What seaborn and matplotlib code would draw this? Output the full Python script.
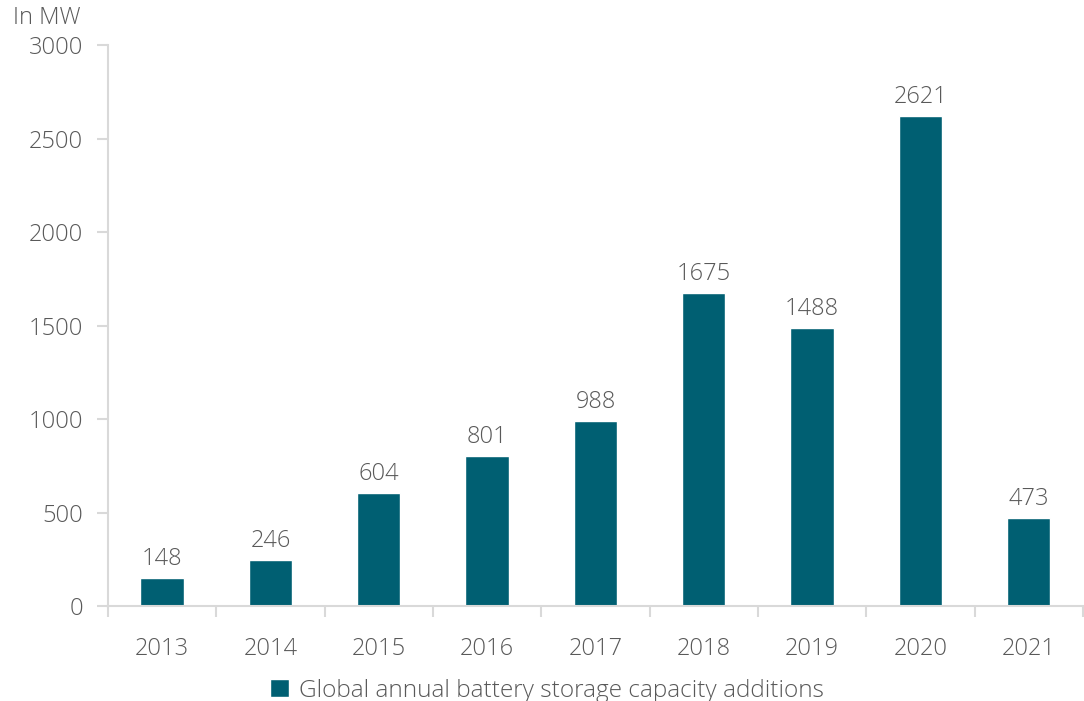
import matplotlib
matplotlib.use("Agg")
import matplotlib.pyplot as plt
import seaborn as sns
import pandas as pd
import numpy as np

years = ["2013", "2014", "2015", "2016", "2017", "2018", "2019", "2020", "2021"]
additions_mw = [148, 246, 604, 801, 988, 1675, 1488, 2621, 473]
series_name = "Global annual battery storage capacity additions"
y_ticks = [0, 500, 1000, 1500, 2000, 2500, 3000]

bar_color = "#005F72"
text_color = "#595959"
axis_color = "#D9D9D9"

sns.set_theme(style="white")
plt.rcParams["font.family"] = ["Open Sans", "DejaVu Sans"]
plt.rcParams["font.weight"] = "light"

df = pd.DataFrame({"year": years, "mw": additions_mw})

fig = plt.figure(figsize=(10.84, 7.01), dpi=100)
ax = fig.add_axes([0.0996, 0.1355, 0.8994, 0.8003])

sns.barplot(data=df, x="year", y="mw", color=bar_color, width=0.4,
            saturation=1, ax=ax, label=series_name)

ax.set_ylim(0, 3000)
ax.set_xlim(-0.5, len(years) - 0.5)
ax.set_yticks(y_ticks)
ax.set_xlabel("")
ax.set_ylabel("")

for side in ["top", "right"]:
    ax.spines[side].set_visible(False)
for side in ["left", "bottom"]:
    ax.spines[side].set_color(axis_color)
    ax.spines[side].set_linewidth(1.5)

ax.tick_params(axis="y", length=8, width=1.5, color=axis_color, left=True,
               labelsize=17, labelcolor=text_color, pad=10)
ax.tick_params(axis="x", which="major", length=0, labelsize=17,
               labelcolor=text_color, pad=22)
ax.set_xticks(np.arange(-0.5, len(years), 1.0), minor=True)
ax.tick_params(axis="x", which="minor", bottom=True, length=8, width=1.5,
               color=axis_color)

for container in ax.containers:
    ax.bar_label(container, labels=[str(v) for v in additions_mw],
                 padding=5, fontsize=17, color=text_color)

fig.text(0.074, 0.974, "In MW", fontsize=17, color=text_color,
         ha="right", va="center")

leg = ax.legend(loc="upper center", bbox_to_anchor=(0.45, -0.09),
                frameon=False, fontsize=17.6, handlelength=0.8,
                handleheight=0.8, handletextpad=0.4, labelcolor=text_color)

fig.savefig("out.png", dpi=100)
